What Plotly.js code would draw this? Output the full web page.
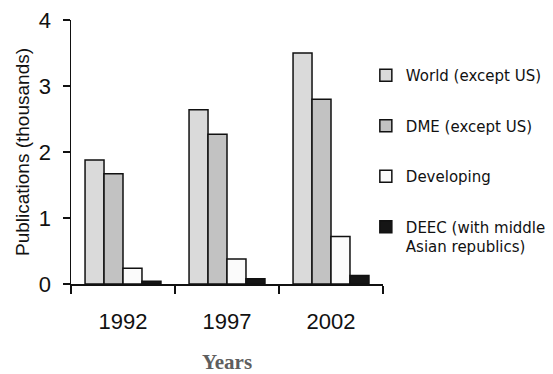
<!DOCTYPE html>
<html>
<head>
<meta charset="utf-8">
<script src="https://cdn.plot.ly/plotly-3.0.1.min.js"></script>
<style>html,body{margin:0;padding:0;background:#fff;}#chart{width:553px;height:374px;}</style>
</head>
<body>
<div id="chart"></div>
<script>
var years = ['1992', '1997', '2002'];
var seriesNames = ['World (except US)', 'DME (except US)', 'Developing', 'DEEC (with middle<br>Asian republics)'];
var world = [1.88, 2.64, 3.50];
var dme = [1.67, 2.27, 2.80];
var developing = [0.24, 0.38, 0.72];
var deec = [0.04, 0.08, 0.13];

var colors = ['#dadada', '#c2c2c2', '#fbfbfb', '#151515'];
var values = [world, dme, developing, deec];

var traces = values.map(function (v, i) {
  return {
    type: 'bar',
    x: years,
    y: v,
    name: seriesNames[i],
    legendgroup: 'g' + i,
    marker: {color: colors[i], line: {color: '#111', width: 1.5}},
    hoverinfo: 'x+y'
  };
});

var layout = {
  width: 553,
  height: 374,
  margin: {l: 71, r: 170, t: 20, b: 90, autoexpand: false},
  paper_bgcolor: '#fff',
  plot_bgcolor: '#fff',
  barmode: 'group',
  bargap: 0.27,
  bargroupgap: 0,
  font: {family: 'Arial, Liberation Sans, sans-serif', color: '#111'},
  xaxis: {
    type: 'category',
    showline: true,
    linecolor: '#111',
    linewidth: 1.5,
    ticks: 'outside',
    tickson: 'boundaries',
    ticklen: 8,
    tickcolor: '#111',
    tickwidth: 1.5,
    tickfont: {size: 22, family: 'Arial, Liberation Sans, sans-serif', color: '#111'},
    ticklabelstandoff: 17,
    showgrid: false,
    zeroline: false,
    automargin: false,
    title: {text: 'Years', font: {family: 'Times New Roman, Liberation Serif, serif', size: 21, color: '#5e5e5e', weight: 'bold'}, standoff: 22}
  },
  yaxis: {
    range: [0, 4],
    dtick: 1,
    showline: true,
    linecolor: '#111',
    linewidth: 1.5,
    ticks: 'outside',
    ticklen: 7,
    tickcolor: '#111',
    tickwidth: 1.5,
    tickfont: {size: 22, family: 'Arial, Liberation Sans, sans-serif', color: '#111'},
    ticklabelstandoff: 7,
    showgrid: false,
    zeroline: false,
    automargin: false,
    title: {text: 'Publications (thousands)', font: {size: 19, family: 'Arial, Liberation Sans, sans-serif', color: '#111'}, standoff: 4}
  },
  legend: {
    x: 0.945,
    xanchor: 'left',
    y: 0.852,
    yanchor: 'top',
    traceorder: 'grouped',
    tracegroupgap: 28,
    valign: 'top',
    font: {size: 15, family: 'DejaVu Sans, sans-serif', color: '#111'},
    bgcolor: 'rgba(0,0,0,0)'
  },
  showlegend: true
};

Plotly.newPlot('chart', traces, layout, {displayModeBar: false, staticPlot: true});
</script>
</body>
</html>
